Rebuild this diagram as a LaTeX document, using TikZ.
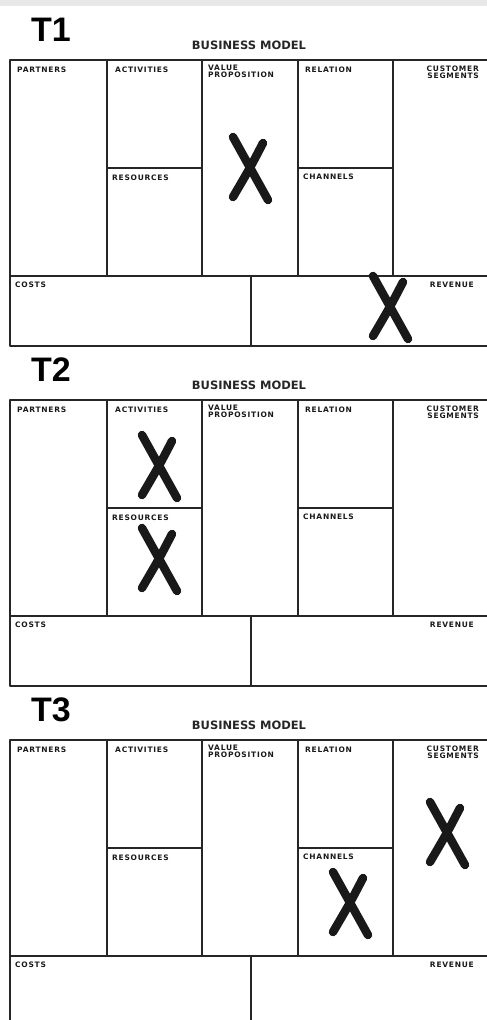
\documentclass[tikz,border=0pt]{standalone}
\usepackage{fontspec}
\setmainfont{Liberation Sans}
\newfontfamily\handfont[LetterSpace=10]{DejaVu Sans}
\newfontfamily\titlefont{DejaVu Sans}

\begin{document}
\begin{tikzpicture}[
    x=1pt, y=-1pt,
    frame/.style={line width=1.7pt, draw=black!85, line cap=round, line join=round},
    cell/.style={font=\handfont\bfseries\fontsize{7.5}{7.2}\selectfont, inner sep=0pt, text=black!90},
    title/.style={font=\titlefont\bfseries\fontsize{11.5}{14}\selectfont, inner sep=0pt, text=black!85},
    tag/.style={font=\bfseries\fontsize{34}{36}\selectfont, inner sep=0pt},
    pen/.style={line width=8.5pt, line cap=round, draw=black!90},
    cross/.pic={
        \draw[pen] (-17,-31) -- (18,32);
        \draw[pen] (13,-25) .. controls (0,0) .. (-17,29);
    }
]

% Page frame and the grey band at the top
\useasboundingbox (0,0) rectangle (487,1020);
\clip (0,0) rectangle (487,1020);
\fill[gray!18] (0,0) rectangle (487,6);

% Three canvases, one below the other
\foreach \t/\dy in {1/0, 2/340, 3/680} {
\begin{scope}[shift={(0,\dy)}]
    \node[tag, anchor=base west] (tag\t) at (31,41) {T\t};
    \node[title, anchor=base] (title\t) at (249,49) {BUSINESS MODEL};

    % Grid of the canvas
    \draw[frame] (10,60) rectangle (488,346);
    \draw[frame] (10,276) -- (488,276);
    \foreach \cx in {107,202,298,393}
        \draw[frame] (\cx,60) -- (\cx,276);
    \draw[frame] (251,276) -- (251,346);
    \draw[frame] (107,168) -- (202,168) (298,168) -- (393,168);

    % Cell headings
    \node[cell, anchor=north west] (partners\t) at (17,67) {PARTNERS};
    \node[cell, anchor=north west] (activities\t) at (115,67) {ACTIVITIES};
    \node[cell, anchor=north west, align=left] (value\t) at (208,65) {VALUE\\PROPOSITION};
    \node[cell, anchor=north west] (relation\t) at (305,67) {RELATION};
    \node[cell, anchor=north east, align=right] (segments\t) at (479,66) {CUSTOMER\\SEGMENTS};
    \node[cell, anchor=north west] (resources\t) at (112,175) {RESOURCES};
    \node[cell, anchor=north west] (channels\t) at (303,174) {CHANNELS};
    \node[cell, anchor=north west] (costs\t) at (15,282) {COSTS};
    \node[cell, anchor=north east] (revenue\t) at (474,282) {REVENUE};
\end{scope}
}

% Marks
\pic at (250,168) {cross};   % T1 value proposition
\pic at (390,307) {cross};   % T1 revenue
\pic at (159,466) {cross};   % T2 activities
\pic at (159,559) {cross};   % T2 resources
\pic at (447,833) {cross};   % T3 customer segments
\pic at (350,903) {cross};   % T3 channels

\end{tikzpicture}
\end{document}
